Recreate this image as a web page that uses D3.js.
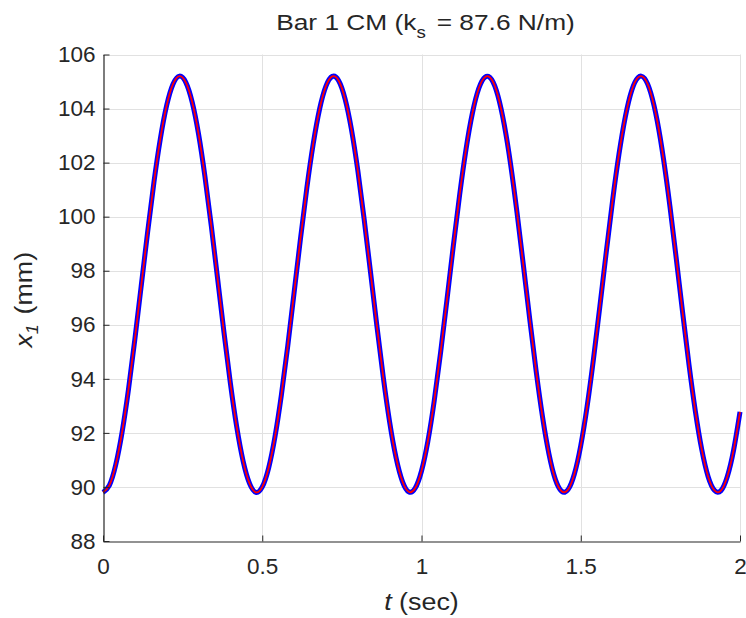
<!DOCTYPE html>
<html>
<head>
<meta charset="utf-8">
<script src="https://cdn.jsdelivr.net/npm/d3@7"></script>
<style>
  body { margin: 0; background: #fff; }
  text { font-family: "Liberation Sans", Arial, sans-serif; fill: #262626; }
</style>
</head>
<body>
<svg id="chart" width="746" height="618"></svg>
<script>
  // time samples (sec), every 0.02 s
  const timeSec = d3.range(0, 101).map(i => +(i * 0.02).toFixed(2));

  // bar 1 CM position (mm)
  const x1Measured = [
    89.80, 90.06, 90.82, 92.03, 93.61, 95.46, 97.44, 99.42, 101.28, 102.88,
    104.12, 104.91, 105.20, 104.97, 104.24, 103.06, 101.49, 99.66, 97.69, 95.70,
    93.83, 92.21, 90.95, 90.13, 89.80, 90.00, 90.70, 91.86, 93.40, 95.21,
    97.19, 99.18, 101.06, 102.69, 103.98, 104.83, 105.19, 105.03, 104.36, 103.23,
    101.71, 99.90, 97.94, 95.95, 94.06, 92.40, 91.09, 90.21, 89.82, 89.95,
    90.59, 91.69, 93.19, 94.98, 96.93, 98.93, 100.83, 102.51, 103.84, 104.75,
    105.17, 105.08, 104.47, 103.39, 101.92, 100.14, 98.19, 96.19, 94.28, 92.59,
    91.23, 90.29, 89.84, 89.90, 90.48, 91.53, 92.98, 94.74, 96.68, 98.68,
    100.60, 102.31, 103.70, 104.67, 105.15, 105.12, 104.57, 103.55, 102.12, 100.38,
    98.44, 96.44, 94.51, 92.79, 91.38, 90.38, 89.87, 89.86, 90.38, 91.37,
    92.78
  ];
  // model curve lies on top of the measured one
  const x1Model = x1Measured.slice();

  const xTicks = [0, 0.5, 1, 1.5, 2];
  const yTicks = [88, 90, 92, 94, 96, 98, 100, 102, 104, 106];

  const margin = { top: 54.5, right: 6, bottom: 77, left: 103 };
  const width = 746, height = 618;

  const svg = d3.select("#chart");
  svg.append("rect").attr("width", width).attr("height", height).attr("fill", "#fff");

  const x = d3.scaleLinear().domain([0, 2]).range([margin.left, width - margin.right]);
  const y = d3.scaleLinear().domain([88, 106]).range([height - margin.bottom, margin.top]);

  // grid
  const grid = svg.append("g").attr("stroke", "#e1e1e1").attr("stroke-width", 1);
  grid.selectAll(".gx").data(xTicks.slice(1)).enter().append("line")
    .attr("x1", d => Math.round(x(d)) + 0.5).attr("x2", d => Math.round(x(d)) + 0.5)
    .attr("y1", y(88)).attr("y2", y(106));
  grid.selectAll(".gy").data(yTicks.slice(1)).enter().append("line")
    .attr("x1", x(0)).attr("x2", x(2))
    .attr("y1", d => Math.round(y(d)) + 0.5).attr("y2", d => Math.round(y(d)) + 0.5);

  // lines
  const line = vals => d3.line()
    .x((d, i) => x(timeSec[i]))
    .y(d => y(d))
    .curve(d3.curveNatural)(vals);

  svg.append("path")
    .attr("d", line(x1Measured))
    .attr("fill", "none").attr("stroke", "#0000ff").attr("stroke-width", 5)
    .attr("stroke-linejoin", "round");
  svg.append("path")
    .attr("d", line(x1Model))
    .attr("fill", "none").attr("stroke", "#ff0000").attr("stroke-width", 1.8);

  // axes
  const xAxis = svg.append("g")
    .attr("transform", `translate(0, ${Math.round(y(88)) + 0.5})`)
    .call(d3.axisBottom(x).tickValues(xTicks).tickSizeInner(-6).tickSizeOuter(0).tickPadding(17)
      .tickFormat(d3.format("")));
  const yAxis = svg.append("g")
    .attr("transform", `translate(${x(0) + 0.5}, 0)`)
    .call(d3.axisLeft(y).tickValues(yTicks).tickSizeInner(-6).tickSizeOuter(0).tickPadding(8));

  [xAxis, yAxis].forEach(a => {
    a.select(".domain").attr("stroke", "#262626").attr("stroke-width", 1.2);
    a.selectAll(".tick line").attr("stroke", "#262626");
    a.selectAll("text").attr("font-size", 22.5).attr("fill", "#262626")
      .attr("font-family", "Liberation Sans, Arial, sans-serif");
  });

  // title (TeX-style rendering in the original is a bit wider)
  const title = svg.append("g")
    .attr("transform", `translate(${(x(0) + x(2)) / 2 + 4}, 30) scale(1.17, 1)`)
    .append("text")
    .attr("text-anchor", "middle").attr("font-size", 22.5);
  title.append("tspan").text("Bar 1 CM (k");
  title.append("tspan").attr("font-size", 16).attr("dy", 8).text("s");
  title.append("tspan").attr("dy", -8).attr("dx", 3).text(" = 87.6 N/m)");

  // x label
  svg.append("g")
    .attr("transform", `translate(${(x(0) + x(2)) / 2}, 610) scale(1.12, 1)`)
    .append("text")
    .attr("text-anchor", "middle").attr("font-size", 24)
    .call(t => {
      t.append("tspan").attr("font-style", "italic").text("t");
      t.append("tspan").text(" (sec)");
    });

  // y label
  svg.append("g")
    .attr("transform", `translate(32, ${(y(88) + y(106)) / 2 + 2}) rotate(-90) scale(1.12, 1)`)
    .append("text")
    .attr("text-anchor", "middle").attr("font-size", 24)
    .call(t => {
      t.append("tspan").attr("font-style", "italic").text("x");
      t.append("tspan").attr("font-style", "italic").attr("font-size", 16).attr("dy", 6).text("1");
      t.append("tspan").attr("dy", -6).attr("dx", 2).text(" (mm)");
    });
</script>
</body>
</html>
